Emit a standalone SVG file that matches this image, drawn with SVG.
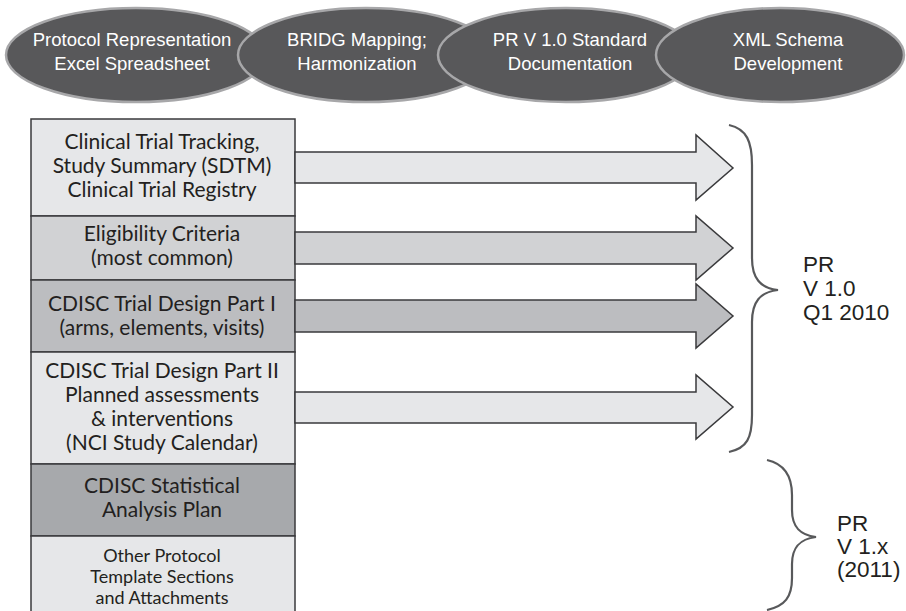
<svg xmlns="http://www.w3.org/2000/svg" width="906" height="611" viewBox="0 0 906 611">
<style>
.ell{fill:#58585a;stroke:#a7a7a9;stroke-width:2.5}
.et{fill:#ffffff;font-family:"Liberation Sans",Arial,sans-serif;font-size:18.5px;text-anchor:middle}
.box{stroke:#3a3a3c;stroke-width:1.5}
.bt{fill:#231f20;font-family:Lato,"Noto Sans",sans-serif;font-size:21px;text-anchor:middle}
.bs{font-size:18px}
.arr{stroke:#3a3a3c;stroke-width:1.5;stroke-linejoin:miter}
.brace{fill:none;stroke:#58595b;stroke-width:2.2}
.rt{fill:#231f20;font-family:"Liberation Sans",Arial,sans-serif;font-size:22.5px}
.l1{fill:#e6e7e9}.l2{fill:#d1d2d4}.l3{fill:#bcbdc0}.l5{fill:#a7a9ac}
</style>
<rect width="906" height="611" fill="#ffffff"/>
<g id="phase-excel">
<ellipse class="ell" cx="136" cy="55" rx="130" ry="47"/>
<text class="et" x="132" y="46">Protocol Representation</text>
<text class="et" x="132" y="70">Excel Spreadsheet</text>
</g>
<g id="phase-bridg">
<ellipse class="ell" cx="366" cy="55" rx="128" ry="47"/>
<text class="et" x="357" y="46">BRIDG Mapping;</text>
<text class="et" x="357" y="70">Harmonization</text>
</g>
<g id="phase-doc">
<ellipse class="ell" cx="566" cy="55" rx="128" ry="47"/>
<text class="et" x="570" y="46">PR V 1.0 Standard</text>
<text class="et" x="570" y="70">Documentation</text>
</g>
<g id="phase-xml">
<ellipse class="ell" cx="780" cy="55" rx="124" ry="47"/>
<text class="et" x="788" y="46">XML Schema</text>
<text class="et" x="788" y="70">Development</text>
</g>
<g id="sec-tracking">
<rect class="box l1" x="31" y="119" width="264" height="97"/>
<text class="bt" x="162" y="149">Clinical Trial Tracking,</text>
<text class="bt" x="162" y="173">Study Summary (SDTM)</text>
<text class="bt" x="162" y="197">Clinical Trial Registry</text>
</g>
<g id="sec-eligibility">
<rect class="box l2" x="31" y="216" width="264" height="64"/>
<text class="bt" x="162" y="241">Eligibility Criteria</text>
<text class="bt" x="162" y="265">(most common)</text>
</g>
<g id="sec-design1">
<rect class="box l3" x="31" y="280" width="264" height="72"/>
<text class="bt" x="162" y="311">CDISC Trial Design Part I</text>
<text class="bt" x="162" y="335">(arms, elements, visits)</text>
</g>
<g id="sec-design2">
<rect class="box l1" x="31" y="352" width="264" height="112"/>
<text class="bt" x="162" y="378">CDISC Trial Design Part II</text>
<text class="bt" x="162" y="402">Planned assessments</text>
<text class="bt" x="162" y="426">&amp; interventions</text>
<text class="bt" x="162" y="450">(NCI Study Calendar)</text>
</g>
<g id="sec-sap">
<rect class="box l5" x="31" y="464" width="264" height="72"/>
<text class="bt" x="162" y="493">CDISC Statistical</text>
<text class="bt" x="162" y="517">Analysis Plan</text>
</g>
<g id="sec-other">
<rect class="box l1" x="31" y="536" width="264" height="80"/>
<text class="bt bs" x="162" y="562">Other Protocol</text>
<text class="bt bs" x="162" y="583">Template Sections</text>
<text class="bt bs" x="162" y="604">and Attachments</text>
</g>
<g id="connectors">
<polygon class="arr l1" points="295,152 696,152 696,135 733,168 696,200 696,183 295,183"/>
<polygon class="arr l2" points="295,232 696,232 696,216 733,248 696,280 696,264 295,264"/>
<polygon class="arr l3" points="295,300 696,300 696,284 733,316 696,348 696,332 295,332"/>
<polygon class="arr l1" points="295,392 696,392 696,375 733,407 696,439 696,423 295,423"/>
</g>
<g id="brace-v10">
<path class="brace" d="M729,125 C747,129 752,142 752,165 L752,258 C752,278 760,288 778,290 C760,292 752,302 752,322 L752,415 C752,438 747,448 729,452"/>
<text class="rt" x="803" y="272">PR</text>
<text class="rt" x="803" y="296">V 1.0</text>
<text class="rt" x="803" y="320">Q1 2010</text>
</g>
<g id="brace-v1x">
<path class="brace" d="M767,460 C785,464 792,476 792,495 L792,510 C792,527 800,535 816,537 C800,539 792,547 792,564 L792,578 C792,597 785,606 767,610"/>
<text class="rt" x="837" y="531">PR</text>
<text class="rt" x="837" y="554">V 1.x</text>
<text class="rt" x="837" y="577">(2011)</text>
</g>
</svg>
